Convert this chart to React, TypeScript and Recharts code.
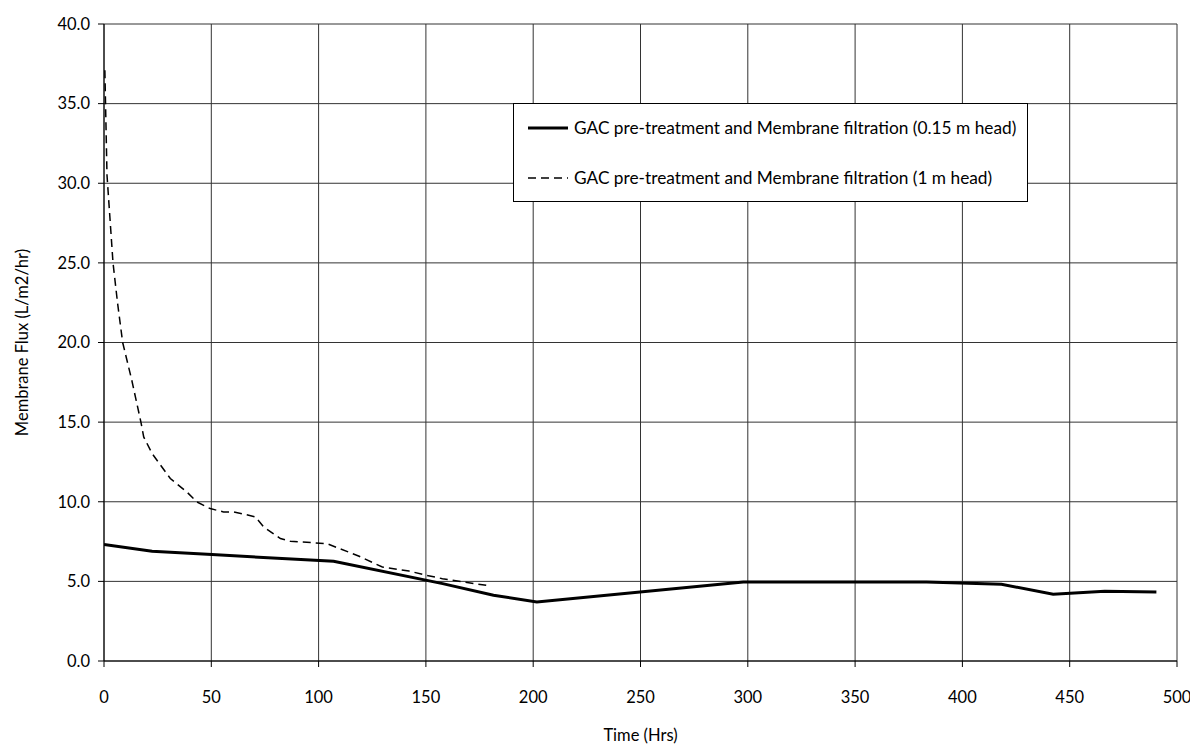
import React from "react";
import { LineChart, Line, XAxis, YAxis, CartesianGrid, Legend } from "recharts";

const head015Time = [0, 22.4, 50.3, 107, 157.8, 181.5, 201.7, 297.9, 383.3, 418.2, 442.3, 466.3, 490.4];
const head015Flux = [7.31, 6.89, 6.68, 6.26, 4.86, 4.13, 3.71, 4.96, 4.96, 4.82, 4.19, 4.38, 4.33];

const head1Time = [0.4, 1.4, 4.2, 6.3, 8.7, 13, 17.2, 18.5, 22.4, 30.9, 38.7, 43.3, 49.5, 55.7, 60.4, 66, 70.5, 74.4, 82.2, 86.8, 103.9, 118.9, 129.7, 142.1, 150.4, 157.7, 178.1];
const head1Flux = [37.1, 30.5, 25.0, 22.5, 20.0, 17.6, 15.0, 14.07, 13.03, 11.46, 10.6, 9.99, 9.57, 9.36, 9.36, 9.2, 9.05, 8.42, 7.69, 7.52, 7.37, 6.58, 5.9, 5.65, 5.38, 5.17, 4.75];

const xTicks = [0, 50, 100, 150, 200, 250, 300, 350, 400, 450, 500];
const yTicks = [0, 5, 10, 15, 20, 25, 30, 35, 40];

const seriesNames = [
  "GAC pre-treatment and Membrane filtration (0.15 m head)",
  "GAC pre-treatment and Membrane filtration (1 m head)",
];

const solidData = head015Time.map((t, i) => ({ t, v: head015Flux[i] }));
const dashData = head1Time.map((t, i) => ({ t, v: head1Flux[i] }));

const FONT = "Lato, 'Open Sans', sans-serif";

const LegendBox = () => (
  <div
    style={{
      width: 515,
      height: 99,
      border: "1px solid #000",
      background: "#fff",
      boxSizing: "border-box",
      fontFamily: FONT,
      fontSize: 17.3,
      color: "#000",
      position: "relative",
    }}
  >
    {seriesNames.map((name, i) => (
      <div
        key={name}
        style={{ position: "absolute", left: 14, top: i === 0 ? 13 : 63, display: "flex", alignItems: "center", whiteSpace: "nowrap", lineHeight: "22px" }}
      >
        <svg width={42} height={10} style={{ marginRight: 4 }}>
          <line
            x1={0}
            y1={5}
            x2={40}
            y2={5}
            stroke="#000"
            strokeWidth={i === 0 ? 3 : 1.5}
            strokeDasharray={i === 0 ? undefined : "8 5"}
          />
        </svg>
        <span>{name}</span>
      </div>
    ))}
  </div>
);

export default function App() {
  return (
    <div style={{ margin: "-8px 0 0 -8px", width: 1198, height: 749, background: "#fff", position: "relative" }}>
      <LineChart width={1198} height={749} margin={{ top: 24, right: 21, bottom: 28, left: 0 }}>
        <CartesianGrid stroke="#333" strokeWidth={1} horizontal vertical />
        <XAxis
          type="number"
          dataKey="t"
          domain={[0, 500]}
          ticks={xTicks}
          interval={0}
          allowDataOverflow
          axisLine={{ stroke: "#000" }}
          tickLine={{ stroke: "#000" }}
          tickSize={6}
          tickMargin={24}
          tick={{ fill: "#000", fontSize: 16.5, fontFamily: FONT }}
          height={60}
          label={{ value: "Time (Hrs)", position: "insideBottom", offset: -20, fill: "#000", fontSize: 16.5, fontFamily: FONT }}
        />
        <YAxis
          type="number"
          domain={[0, 40]}
          ticks={yTicks}
          interval={0}
          allowDataOverflow
          width={104}
          axisLine={{ stroke: "#000" }}
          tickLine={{ stroke: "#000" }}
          tickSize={6}
          tickMargin={8}
          tickFormatter={(v: number) => v.toFixed(1)}
          tick={{ fill: "#000", fontSize: 16.5, fontFamily: FONT }}
          label={{ value: "Membrane Flux (L/m2/hr)", angle: -90, position: "insideLeft", offset: 22, style: { textAnchor: "middle" }, fill: "#000", fontSize: 16.5, fontFamily: FONT }}
        />
        <Legend
          layout="vertical"
          verticalAlign="middle"
          align="center"
          wrapperStyle={{ position: "absolute", left: 513, top: 103, width: 515, height: 99 }}
          content={() => <LegendBox />}
        />
        <Line
          data={solidData}
          dataKey="v"
          name={seriesNames[0]}
          stroke="#000"
          strokeWidth={3}
          dot={false}
          activeDot={false}
          type="linear"
          isAnimationActive={false}
        />
        <Line
          data={dashData}
          dataKey="v"
          name={seriesNames[1]}
          stroke="#000"
          strokeWidth={1.5}
          strokeDasharray="8 5"
          dot={false}
          activeDot={false}
          type="linear"
          isAnimationActive={false}
        />
      </LineChart>
    </div>
  );
}
